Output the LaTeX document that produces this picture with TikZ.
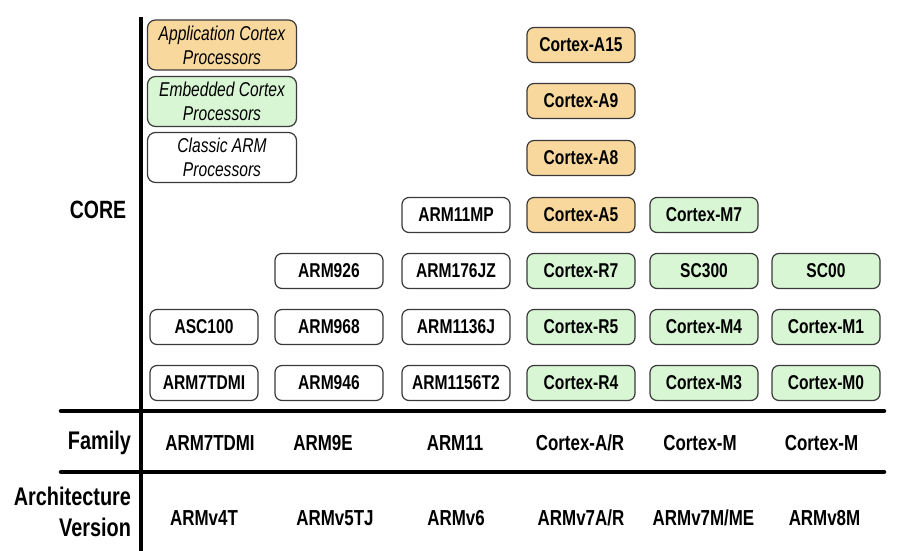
\documentclass[tikz,border=0pt]{standalone}
\usepackage{fontspec}
\setmainfont{Liberation Sans}[FakeStretch=0.78]
\begin{document}
\begin{tikzpicture}[x=1pt,y=-1pt,
  every node/.style={inner sep=0pt, outer sep=0pt},
  box/.style={draw=bordercol, line width=1.2pt, rounded corners=7pt,
    minimum width=108pt, minimum height=35pt,
    font=\fontsize{20}{24}\selectfont\bfseries},
  classic/.style={box, fill=white},
  appl/.style={box, fill=orangefill},
  emb/.style={box, fill=greenfill},
  legend/.style={draw=bordercol, line width=1.2pt, rounded corners=8pt,
    minimum width=149pt, minimum height=50pt, align=center,
    font=\fontsize{20}{24}\selectfont\itshape},
  rowlab/.style={font=\fontsize{25.5}{31}\selectfont\bfseries},
  celltxt/.style={font=\fontsize{21.7}{24}\selectfont\bfseries},
  rule/.style={line width=4.5pt, line cap=round}
]
\definecolor{bordercol}{HTML}{3A3A3A}
\definecolor{orangefill}{HTML}{F9D89E}
\definecolor{greenfill}{HTML}{D8F6D4}
\useasboundingbox (0,0) rectangle (905,551);
\fill[white] (0,0) rectangle (905,551);

% axes / rules
\coordinate (vtop) at (141,17);
\coordinate (vbot) at (141,551);
\coordinate (h1l) at (61,411);
\coordinate (h1r) at (884,411);
\coordinate (h2l) at (61,472);
\coordinate (h2r) at (884,472);
\draw[line width=4pt] (vtop) -- (vbot);
\draw[rule] (h1l) -- (h1r);
\draw[rule] (h2l) -- (h2r);

% legend
\node[legend, fill=orangefill] (legA) at (222,45) {Application Cortex\\Processors};
\node[legend, fill=greenfill] (legE) at (222,101.5) {Embedded Cortex\\Processors};
\node[legend, fill=white] (legC) at (222,157.5) {Classic ARM\\Processors};

% row labels
\node[rowlab, font=\fontsize{25}{28}\selectfont\bfseries] (core) at (98,210) {CORE};
\node[rowlab, anchor=east] (family) at (131,443) {Family};
\node[rowlab, anchor=east, align=right] (arch) at (131,512) {Architecture\\Version};

% column 1
\node[classic] (asc100) at (204,327) {ASC100};
\node[classic] (arm7tdmi) at (204,383) {ARM7TDMI};
% column 2
\node[classic] (arm926) at (329,271) {ARM926};
\node[classic] (arm968) at (329,327) {ARM968};
\node[classic] (arm946) at (329,383) {ARM946};
% column 3
\node[classic] (arm11mp) at (456,215) {ARM11MP};
\node[classic] (arm176) at (456,271) {ARM176JZ};
\node[classic] (arm1136) at (456,327) {ARM1136J};
\node[classic] (arm1156) at (456,383) {ARM1156T2};
% column 4
\node[appl] (a15) at (581,45) {Cortex-A15};
\node[appl] (a9) at (581,101) {Cortex-A9};
\node[appl] (a8) at (581,158) {Cortex-A8};
\node[appl] (a5) at (581,215) {Cortex-A5};
\node[emb] (r7) at (581,271) {Cortex-R7};
\node[emb] (r5) at (581,327) {Cortex-R5};
\node[emb] (r4) at (581,383) {Cortex-R4};
% column 5
\node[emb] (m7) at (704,215) {Cortex-M7};
\node[emb] (sc300) at (704,271) {SC300};
\node[emb] (m4) at (704,327) {Cortex-M4};
\node[emb] (m3) at (704,383) {Cortex-M3};
% column 6
\node[emb] (sc00) at (826,271) {SC00};
\node[emb] (m1) at (826,327) {Cortex-M1};
\node[emb] (m0) at (826,383) {Cortex-M0};

% family row
\node[celltxt] (f1) at (210,443) {ARM7TDMI};
\node[celltxt] (f2) at (323,443) {ARM9E};
\node[celltxt] (f3) at (455,443) {ARM11};
\node[celltxt] (f4) at (580,443) {Cortex-A/R};
\node[celltxt] (f5) at (700,443) {Cortex-M};
\node[celltxt] (f6) at (821.5,443) {Cortex-M};

% architecture row
\node[celltxt] (v1) at (204,518) {ARMv4T};
\node[celltxt] (v2) at (335,518) {ARMv5TJ};
\node[celltxt] (v3) at (456,518) {ARMv6};
\node[celltxt] (v4) at (581,518) {ARMv7A/R};
\node[celltxt] (v5) at (703.5,518) {ARMv7M/ME};
\node[celltxt] (v6) at (824.5,518) {ARMv8M};
\end{tikzpicture}
\end{document}
